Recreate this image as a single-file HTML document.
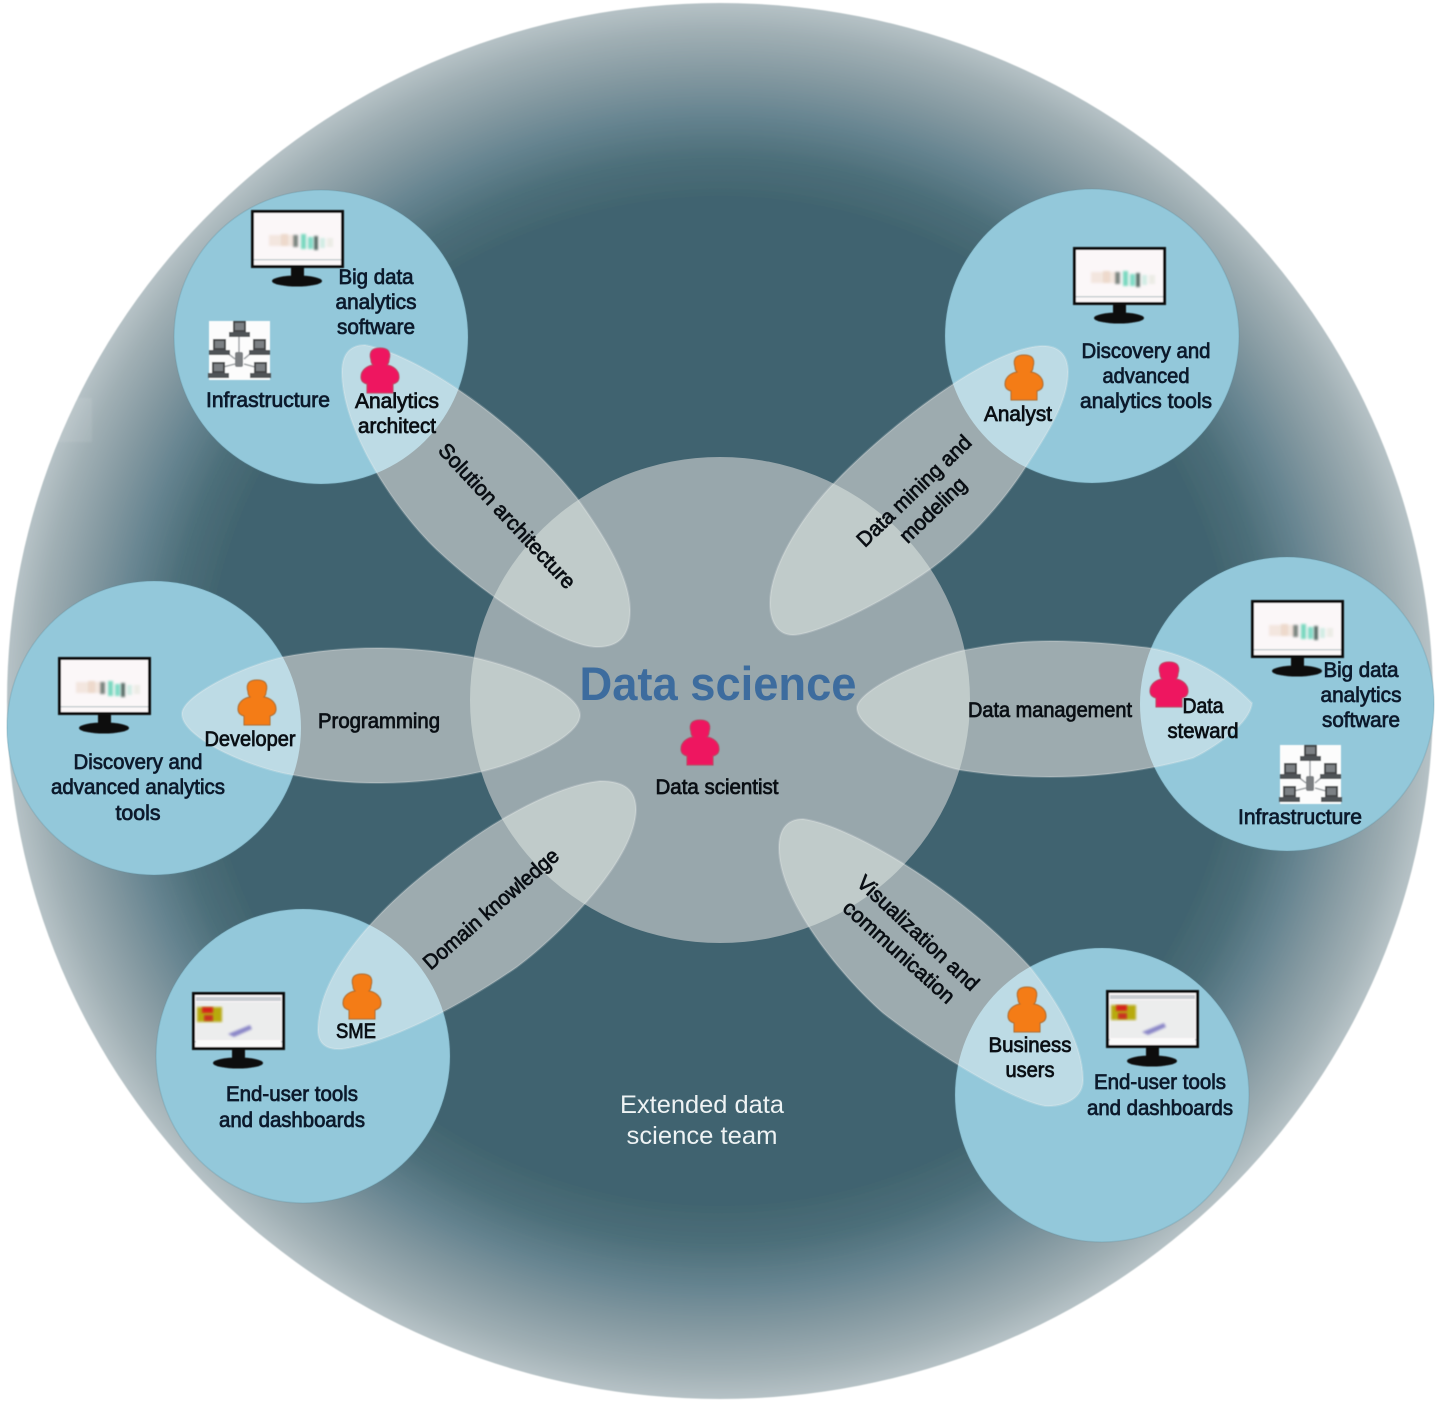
<!DOCTYPE html>
<html lang="en">
<head>
<meta charset="utf-8">
<title>Data science team</title>
<style>
html,body{margin:0;padding:0;background:#fff}
svg{display:block}
text{font-family:"Liberation Sans",Arial,sans-serif}
.t{font-size:21px;text-anchor:middle;fill:#0c1a2c;stroke:#0c1a2c;stroke-width:.75px}
.k{font-size:21px;text-anchor:middle;fill:#0a0f14;stroke:#0a0f14;stroke-width:.75px}
</style>
</head>
<body>
<svg width="1440" height="1406" viewBox="0 0 1440 1406" xmlns="http://www.w3.org/2000/svg">
<defs>
<radialGradient id="bg" cx="50%" cy="50%" r="50%">
<stop offset="0" stop-color="#41646f"/>
<stop offset=".72" stop-color="#41646f"/>
<stop offset=".78" stop-color="#4d6f7a"/>
<stop offset=".84" stop-color="#668490"/>
<stop offset=".90" stop-color="#8499a1"/>
<stop offset=".96" stop-color="#a0afb4"/>
<stop offset="1" stop-color="#b6c2c6"/>
</radialGradient>
<filter id="soft" x="-5%" y="-5%" width="110%" height="110%"><feGaussianBlur stdDeviation=".6"/></filter>
<filter id="chartblur" x="-10%" y="-10%" width="120%" height="120%"><feGaussianBlur stdDeviation="1.1"/></filter>
<path id="p1" d="M342 372 C342 352,352 345,365 345 C420 355,520 425,577 498 C600 530,630 575,630 610 C630 635,620 647,597 647 C565 647,490 600,437 550 C395 510,342 430,342 372 Z"/>
<path id="p2" d="M1068 372 C1068 354,1058 345,1040 346 C985 350,885 430,837 480 C805 512,770 565,770 603 C770 625,780 635,793 635 C815 635,880 605,932 568 C970 540,1005 500,1027 465 C1050 430,1068 400,1068 372 Z"/>
<path id="p3" d="M182 714 C182 696,240 667,283 657 C315 651,345 648,377 648 C415 648,445 652,472 657 C530 670,580 695,580 715 C580 735,530 760,480 772 C445 780,410 783,377 783 C345 783,320 780,293 775 C250 768,182 738,182 714 Z"/>
<path id="p4" d="M857 708 C857 690,925 659,965 650 C1000 643,1025 641,1050 641 C1090 641,1125 645,1150 648 C1190 655,1225 675,1252 703 C1250 725,1210 750,1193 758 C1150 770,1100 777,1050 777 C1015 777,985 774,960 770 C920 761,857 730,857 708 Z"/>
<path id="p5" d="M318 1030 C318 1045,328 1050,342 1049 C375 1045,440 1020,517 967 C560 935,635 860,636 810 C636 790,625 781,600 781 C560 785,500 815,440 862 C395 895,318 965,318 1030 Z"/>
<path id="p6" d="M779 848 C779 828,788 819,803 819 C850 825,960 890,1030 967 C1060 1005,1083 1045,1083 1080 C1083 1098,1065 1107,1045 1106 C1010 1100,930 1050,883 1013 C840 975,779 900,779 848 Z"/>
<clipPath id="petals">
<use href="#p1"/><use href="#p2"/><use href="#p3"/><use href="#p4"/><use href="#p5"/><use href="#p6"/>
</clipPath>
<g id="mon">
<rect x="0" y="0" width="93" height="58" fill="#111"/>
<rect x="3" y="3" width="87" height="52" fill="#fbf7f8"/>
<rect x="3" y="49" width="87" height="1.500" fill="#c9cfd2"/>
<rect x="40" y="58" width="13" height="12" fill="#111"/>
<ellipse cx="46" cy="71" rx="25" ry="5.500" fill="#0c0c0c"/>
</g>
<g id="chart" filter="url(#chartblur)">
<rect x="18" y="25" width="26" height="11" fill="#f3e6df"/>
<rect x="30" y="24" width="7" height="12" fill="#edd9cc"/>
<rect x="42" y="25" width="5" height="12" fill="#7b8580"/>
<rect x="50" y="24" width="5" height="15" fill="#79d8bf"/>
<rect x="57" y="27" width="5" height="12" fill="#80dcc6"/>
<rect x="63" y="26" width="4" height="14" fill="#566a65"/>
<rect x="69" y="28" width="5" height="10" fill="#d2ece4"/>
<rect x="76" y="28" width="6" height="9" fill="#ecece6"/>
</g>
<g id="dash">
<rect x="4" y="5" width="85" height="4" fill="#c9ccd1"/>
<rect x="4" y="10" width="85" height="38" fill="#eceded"/>
<rect x="4" y="49" width="85" height="5" fill="#fafafa"/>
<rect x="5" y="15" width="25" height="15" fill="#b8aa10" filter="url(#chartblur)"/>
<rect x="10" y="15" width="11" height="6" fill="#d6201f" filter="url(#chartblur)"/>
<rect x="12" y="23" width="9" height="6" fill="#c93322" filter="url(#chartblur)"/>
<path d="M36 42 L58 33 L60 37 L42 45 Z" fill="#8b87c8" filter="url(#chartblur)"/>
</g>
<path id="person" d="M-9 -12 C-12 -22 -6 -24 0 -24 C6 -24 12 -22 9 -12 C9 -9 8 -8 7 -7 C13 -6 19 -2 19 5 C19 9 17 11 13 12 L13 21 L-13 21 L-13 12 C-17 11 -19 9 -19 5 C-19 -2 -13 -6 -7 -7 C-8 -8 -9 -9 -9 -12 Z"/>
<g id="pc">
<rect x="3" y="0" width="13" height="11" fill="#44464a"/>
<rect x="5" y="2" width="9" height="7" fill="#7c8084"/>
<rect x="-1" y="11" width="21" height="5" fill="#505356"/>
</g>
<g id="net">
<rect width="61" height="59" fill="#fcfcfc"/>
<path d="M30 13 V34 M12 27 L26 38 M48 27 L35 38 M14 46 L26 43 M46 46 L35 43" stroke="#a0a4a7" stroke-width="1.500" fill="none"/>
<rect x="26" y="31" width="8" height="15" rx="2" fill="#7b7f82"/>
<use href="#pc" x="21" y="0"/>
<use href="#pc" x="1" y="18"/>
<use href="#pc" x="41" y="18"/>
<use href="#pc" x="0" y="41"/>
<use href="#pc" x="42" y="41"/>
</g>
</defs>

<rect width="1440" height="1406" fill="#fff"/>
<ellipse cx="720" cy="701" rx="713" ry="698" fill="url(#bg)" filter="url(#soft)"/>
<rect x="58" y="398" width="34" height="44" fill="#fff" opacity=".08" filter="url(#chartblur)"/>

<!-- centre -->
<ellipse cx="720" cy="700" rx="250" ry="243" fill="#98a7ac"/>

<!-- role circles -->
<g fill="#93c8da" stroke="#5f8f9f" stroke-opacity=".25" stroke-width="1.500">
<circle cx="321" cy="337" r="147"/>
<circle cx="1092" cy="336" r="147"/>
<circle cx="154" cy="728" r="147"/>
<circle cx="1287" cy="704" r="147"/>
<circle cx="303" cy="1056" r="147"/>
<circle cx="1102" cy="1095" r="147"/>
</g>

<!-- petals: base tint, lighter where they overlap the circles -->
<g clip-path="url(#petals)">
<rect width="1440" height="1406" fill="#9dabaf"/>
<ellipse cx="720" cy="700" rx="250" ry="243" fill="#c0cbca"/>
<g fill="#bddbe5">
<circle cx="321" cy="337" r="147"/>
<circle cx="1092" cy="336" r="147"/>
<circle cx="154" cy="728" r="147"/>
<circle cx="1287" cy="704" r="147"/>
<circle cx="303" cy="1056" r="147"/>
<circle cx="1102" cy="1095" r="147"/>
</g>
</g>
<g fill="none" stroke="#fff" stroke-opacity=".18" stroke-width="2">
<use href="#p1"/><use href="#p2"/><use href="#p3"/><use href="#p4"/><use href="#p5"/><use href="#p6"/>
</g>

<!-- monitors -->
<g filter="url(#soft)">
<g transform="translate(251 210)"><use href="#mon"/><use href="#chart"/></g>
<g transform="translate(1073 247)"><use href="#mon"/><use href="#chart"/></g>
<g transform="translate(58 657)"><use href="#mon"/><use href="#chart"/></g>
<g transform="translate(1251 600)"><use href="#mon"/><use href="#chart"/></g>
<g transform="translate(192 992)"><use href="#mon"/><use href="#dash"/></g>
<g transform="translate(1106 990)"><use href="#mon"/><use href="#dash"/></g>
<use href="#net" x="209" y="321"/>
<use href="#net" x="1280" y="745"/>
</g>

<!-- people -->
<g filter="url(#soft)">
<g fill="#ee1460" stroke="#b8405f" stroke-width="1">
<use href="#person" x="380" y="372"/>
<use href="#person" x="1169" y="686"/>
<use href="#person" x="700" y="744"/>
</g>
<g fill="#f47b14" stroke="#a96a2e" stroke-width="1">
<use href="#person" x="1024" y="379"/>
<use href="#person" x="257" y="704"/>
<use href="#person" x="362" y="998"/>
<use href="#person" x="1027" y="1011"/>
</g>
</g>

<!-- top left -->
<text class="t" x="376" y="284" textLength="75" lengthAdjust="spacingAndGlyphs">Big data</text>
<text class="t" x="376" y="309" textLength="81" lengthAdjust="spacingAndGlyphs">analytics</text>
<text class="t" x="376" y="334" textLength="78" lengthAdjust="spacingAndGlyphs">software</text>
<text class="t" x="268" y="407" textLength="124" lengthAdjust="spacingAndGlyphs">Infrastructure</text>
<text class="k" x="397" y="408" textLength="84" lengthAdjust="spacingAndGlyphs">Analytics</text>
<text class="k" x="397" y="433" textLength="78" lengthAdjust="spacingAndGlyphs">architect</text>

<!-- top right -->
<text class="t" x="1146" y="358" textLength="129" lengthAdjust="spacingAndGlyphs">Discovery and</text>
<text class="t" x="1146" y="383" textLength="87" lengthAdjust="spacingAndGlyphs">advanced</text>
<text class="t" x="1146" y="408" textLength="132" lengthAdjust="spacingAndGlyphs">analytics tools</text>
<text class="k" x="1018" y="421" textLength="68" lengthAdjust="spacingAndGlyphs">Analyst</text>

<!-- left -->
<text class="k" x="250" y="746" textLength="91" lengthAdjust="spacingAndGlyphs">Developer</text>
<text class="k" x="379" y="728" textLength="122" lengthAdjust="spacingAndGlyphs">Programming</text>
<text class="t" x="138" y="769" textLength="129" lengthAdjust="spacingAndGlyphs">Discovery and</text>
<text class="t" x="138" y="794" textLength="174" lengthAdjust="spacingAndGlyphs">advanced analytics</text>
<text class="t" x="138" y="820" textLength="45" lengthAdjust="spacingAndGlyphs">tools</text>

<!-- right -->
<text class="k" x="1050" y="717" textLength="164" lengthAdjust="spacingAndGlyphs">Data management</text>
<text class="k" x="1203" y="713" textLength="41" lengthAdjust="spacingAndGlyphs">Data</text>
<text class="k" x="1203" y="738" textLength="71" lengthAdjust="spacingAndGlyphs">steward</text>
<text class="t" x="1361" y="677" textLength="75" lengthAdjust="spacingAndGlyphs">Big data</text>
<text class="t" x="1361" y="702" textLength="81" lengthAdjust="spacingAndGlyphs">analytics</text>
<text class="t" x="1361" y="727" textLength="78" lengthAdjust="spacingAndGlyphs">software</text>
<text class="t" x="1300" y="824" textLength="124" lengthAdjust="spacingAndGlyphs">Infrastructure</text>

<!-- centre text -->
<text x="718" y="700" font-size="47" font-weight="700" text-anchor="middle" fill="#3d6c9e" textLength="277" lengthAdjust="spacingAndGlyphs">Data science</text>
<text class="k" x="717" y="794" textLength="123" lengthAdjust="spacingAndGlyphs">Data scientist</text>

<!-- bottom -->
<text class="k" x="356" y="1038" textLength="40" lengthAdjust="spacingAndGlyphs">SME</text>
<text class="t" x="292" y="1101" textLength="132" lengthAdjust="spacingAndGlyphs">End-user tools</text>
<text class="t" x="292" y="1127" textLength="146" lengthAdjust="spacingAndGlyphs">and dashboards</text>
<text class="k" x="1030" y="1052" textLength="83" lengthAdjust="spacingAndGlyphs">Business</text>
<text class="k" x="1030" y="1077" textLength="49" lengthAdjust="spacingAndGlyphs">users</text>
<text class="t" x="1160" y="1089" textLength="132" lengthAdjust="spacingAndGlyphs">End-user tools</text>
<text class="t" x="1160" y="1115" textLength="146" lengthAdjust="spacingAndGlyphs">and dashboards</text>
<text x="702" y="1113" font-size="25" text-anchor="middle" fill="#eef3f4" textLength="164" lengthAdjust="spacingAndGlyphs">Extended data</text>
<text x="702" y="1144" font-size="25" text-anchor="middle" fill="#eef3f4" textLength="151" lengthAdjust="spacingAndGlyphs">science team</text>

<!-- rotated -->
<text class="k" transform="translate(507 516) rotate(47)" y="7" textLength="190" lengthAdjust="spacingAndGlyphs">Solution architecture</text>
<text class="k" transform="translate(914 491) rotate(-44)" y="7" textLength="150" lengthAdjust="spacingAndGlyphs">Data mining and</text>
<text class="k" transform="translate(933 510) rotate(-44)" y="7" textLength="84" lengthAdjust="spacingAndGlyphs">modeling</text>
<text class="k" transform="translate(491 909) rotate(-41)" y="7" textLength="172" lengthAdjust="spacingAndGlyphs">Domain knowledge</text>
<text class="k" transform="translate(918 933) rotate(43)" y="7" textLength="158" lengthAdjust="spacingAndGlyphs">Visualization and</text>
<text class="k" transform="translate(899 952) rotate(42)" y="7" textLength="142" lengthAdjust="spacingAndGlyphs">communication</text>
</svg>
</body>
</html>
